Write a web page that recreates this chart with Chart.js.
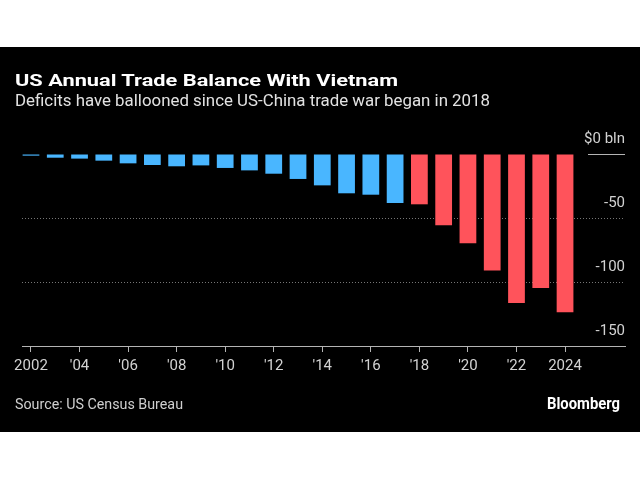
<!DOCTYPE html>
<html>
<head>
<meta charset="utf-8">
<script src="https://cdn.jsdelivr.net/npm/chart.js@4.4.1/dist/chart.umd.min.js"></script>
<style>
  html, body { margin: 0; padding: 0; background: #fff; width: 640px; height: 480px; overflow: hidden; }
  #panel { position: absolute; left: 0; top: 47px; width: 640px; height: 385px; background: #000; }
  #chart { position: absolute; left: 0; top: 0; }
  .txt { position: absolute; white-space: nowrap; line-height: 1; transform-origin: left top; }
  #title { left: 15px; top: 23px; font: bold 17px Roboto, sans-serif; color: #fff; }
  #subtitle { left: 15px; top: 44px; font: 16.5px Roboto, sans-serif; color: #e2e2e2; }
  #source { left: 15px; top: 349px; font: 14.5px Roboto, sans-serif; color: #cfcfcf; }
  #brand { left: 547px; top: 347px; font: bold 16px Roboto, sans-serif; color: #fff; }
</style>
</head>
<body>
<div id="panel">
  <canvas id="chart" width="640" height="385"></canvas>
  <div class="txt" id="title" data-w="383">US Annual Trade Balance With Vietnam</div>
  <div class="txt" id="subtitle" data-w="475">Deficits have ballooned since US-China trade war began in 2018</div>
  <div class="txt" id="source" data-w="168">Source: US Census Bureau</div>
  <div class="txt" id="brand" data-w="73">Bloomberg</div>
</div>
<script>
// US goods trade balance with Vietnam, $ billions
const years = [2002, 2003, 2004, 2005, 2006, 2007, 2008, 2009, 2010, 2011, 2012,
  2013, 2014, 2015, 2016, 2017, 2018, 2019, 2020, 2021, 2022, 2023, 2024];
const balance = [-1.3, -2.9, -3.6, -5.2, -7.3, -8.6, -9.6, -8.9, -10.9, -12.8, -15.4,
  -19.5, -24.5, -30.7, -31.8, -38.3, -39.3, -55.7, -69.8, -91.1, -116.4, -104.7, -123.7];
const tradeWarStart = 2018;
const xTicks = [2002, 2004, 2006, 2008, 2010, 2012, 2014, 2016, 2018, 2020, 2022, 2024];
const yTicks = [-150, -100, -50, 0];

const BLUE = `#49b6ff`;
const RED = `#ff535b`;
const tickFont = { family: `Roboto, sans-serif`, size: 15 };

// squeeze the html labels to the widths in the reference
for (const el of document.querySelectorAll(`.txt`)) {
  const w = el.getBoundingClientRect().width;
  el.style.transform = `scaleX(${Number(el.dataset.w) / w})`;
};

// short solid zero line under the "$0 bln" label
const zeroLine = {
  id: `zeroLine`,
  afterDatasetsDraw(chart) {
    const { ctx, chartArea, scales } = chart;
    const py = Math.round(scales.y.getPixelForValue(0)) + 0.5;
    ctx.save();
    ctx.strokeStyle = `#b4b4b4`;
    ctx.lineWidth = 1;
    ctx.beginPath();
    ctx.moveTo(chartArea.right - 37, py);
    ctx.lineTo(chartArea.right, py);
    ctx.stroke();
    ctx.restore();
  },
};

new Chart(document.getElementById(`chart`), {
  type: `bar`,
  data: {
    labels: years,
    datasets: [{
      data: balance,
      backgroundColor: years.map(y => y >= tradeWarStart ? RED : BLUE),
      borderWidth: 0,
      categoryPercentage: 1,
      barPercentage: 0.69,
    }],
  },
  options: {
    responsive: false,
    animation: false,
    devicePixelRatio: 1,
    layout: { padding: { left: 22, right: 15, top: 107, bottom: 52 } },
    plugins: { legend: { display: false }, tooltip: { enabled: false } },
    scales: {
      x: {
        type: `linear`,
        offset: false,
        min: 2001.63,
        max: 2026.47,
        afterBuildTicks: (scale) => { scale.ticks = xTicks.map(value => ({ value })); },
        grid: { offset: false, drawOnChartArea: false, drawTicks: true, tickLength: 6, tickColor: `#b4b4b4` },
        border: { display: true, color: `#b4b4b4`, width: 1 },
        ticks: {
          autoSkip: false,
          maxRotation: 0,
          padding: 5,
          color: `#d2d2d2`,
          font: tickFont,
          callback: (v) => (v === 2002 || v === 2024) ? String(v) : `'` + String(v).slice(2),
        },
      },
      y: {
        position: `right`,
        min: -150,
        max: 0,
        afterBuildTicks: (scale) => { scale.ticks = yTicks.map(value => ({ value })); },
        grid: {
          drawTicks: false,
          color: (c) => (c.tick && (c.tick.value === -50 || c.tick.value === -100)) ? `#767676` : `transparent`,
        },
        border: { display: false, dash: [1, 2] },
        ticks: {
          mirror: true,
          padding: 0,
          labelOffset: -15,
          color: `#d2d2d2`,
          font: tickFont,
          callback: (v) => v === 0 ? `$0 bln` : String(v),
        },
      },
    },
  },
  plugins: [zeroLine],
});
</script>
</body>
</html>
